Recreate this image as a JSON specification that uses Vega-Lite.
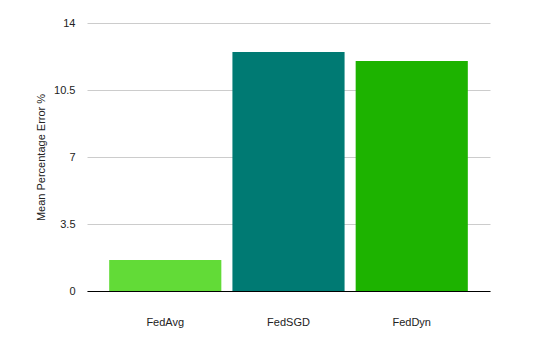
{
  "$schema": "https://vega.github.io/schema/vega-lite/v6.json",
  "width": 403,
  "height": 268,
  "autosize": {"type": "none"},
  "padding": {"left": 87, "top": 23, "right": 65, "bottom": 58},
  "background": "white",
  "config": {
    "view": {"stroke": null},
    "font": "Liberation Sans",
    "axis": {"labelFont": "Liberation Sans", "titleFont": "Liberation Sans"}
  },
  "data": {
    "values": [
      {"method": "FedAvg", "error": 1.62},
      {"method": "FedSGD", "error": 12.49},
      {"method": "FedDyn", "error": 12.02}
    ]
  },
  "mark": {"type": "bar"},
  "encoding": {
    "x": {
      "field": "method",
      "type": "nominal",
      "sort": null,
      "scale": {"paddingInner": 0.09, "paddingOuter": 0.18},
      "axis": {
        "title": null,
        "labelAngle": 0,
        "labelFontSize": 11,
        "labelColor": "#222222",
        "labelPadding": 25,
        "ticks": false,
        "domainColor": "#000000",
        "domainWidth": 1,
        "grid": false
      }
    },
    "y": {
      "field": "error",
      "type": "quantitative",
      "scale": {"domain": [0, 14], "nice": false},
      "axis": {
        "title": "Mean Percentage Error %",
        "titleFontSize": 11,
        "titleFontWeight": "normal",
        "titleColor": "#222222",
        "titlePadding": 7,
        "values": [0, 3.5, 7, 10.5, 14],
        "format": ".1~f",
        "labelFontSize": 11,
        "labelColor": "#222222",
        "labelPadding": 12,
        "ticks": false,
        "domain": false,
        "grid": true,
        "gridColor": "#cccccc"
      }
    },
    "color": {
      "field": "method",
      "type": "nominal",
      "sort": null,
      "scale": {"domain": ["FedAvg", "FedSGD", "FedDyn"], "range": ["#62db37", "#007a73", "#1db300"]},
      "legend": null
    }
  }
}
